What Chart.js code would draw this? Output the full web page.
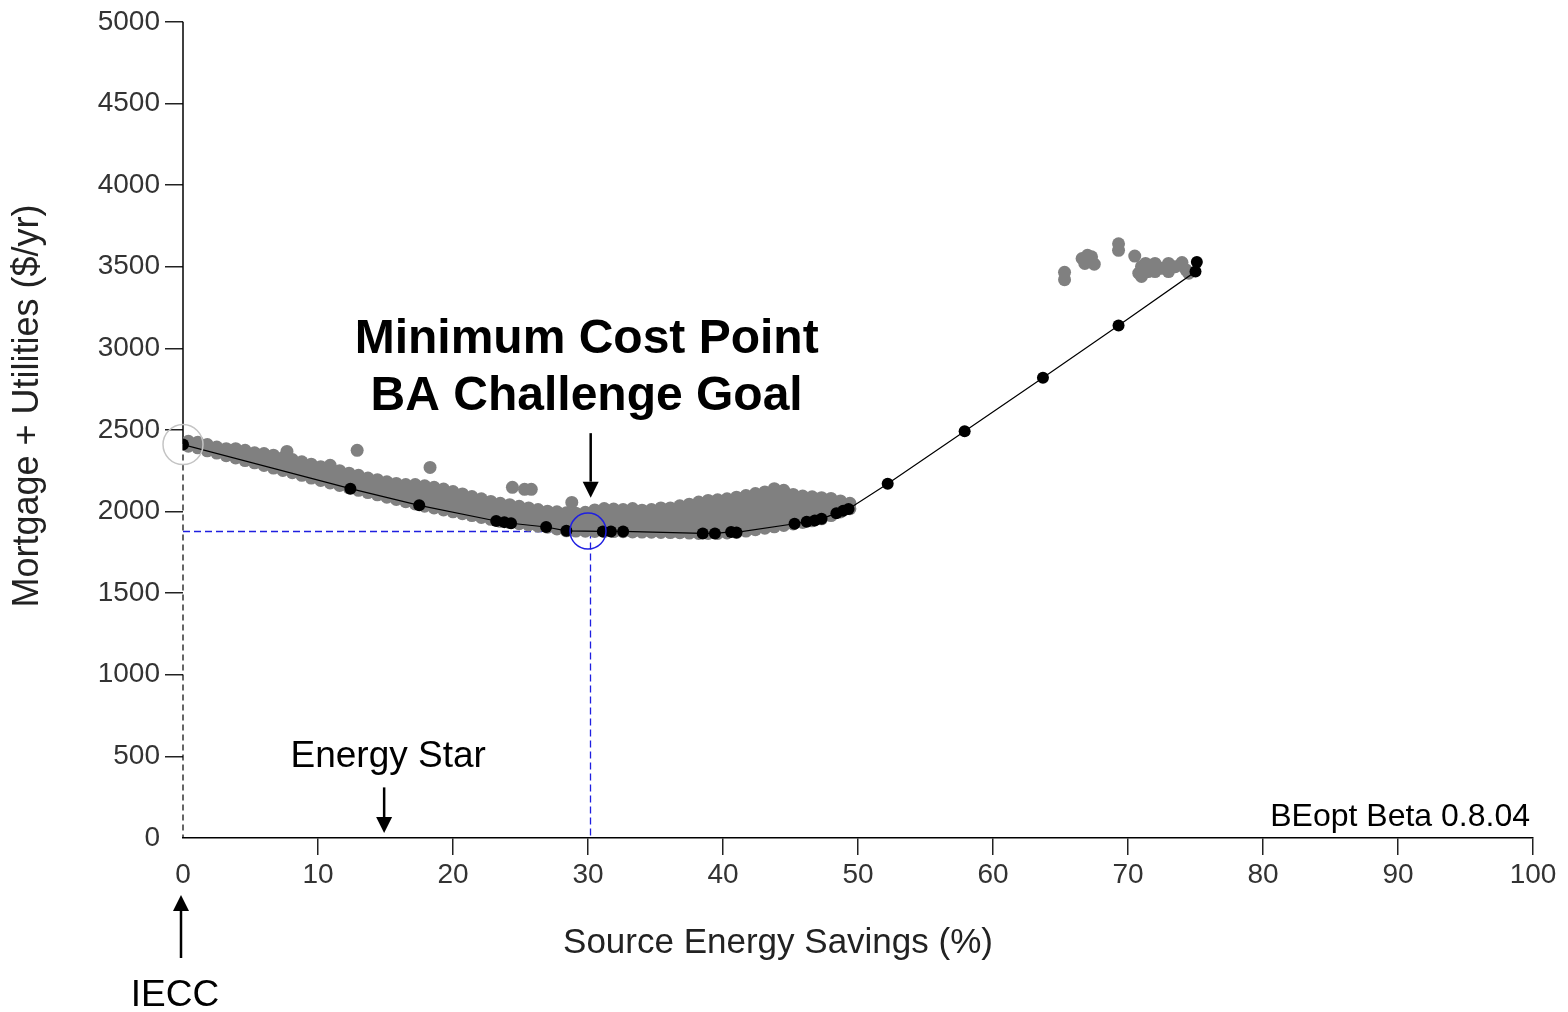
<!DOCTYPE html>
<html>
<head>
<meta charset="utf-8">
<title>BEopt - Mortgage + Utilities vs Source Energy Savings</title>
<script src="https://cdn.jsdelivr.net/npm/chart.js@4.4.1/dist/chart.umd.min.js"></script>
<style>
  html, body { margin: 0; padding: 0; background: #fff; }
  canvas { display: block; }
</style>
</head>
<body>
<canvas id="beoptChart" width="1568" height="1012"></canvas>
<script>
/* ================================================
   DATA
================================================ */

// least-cost curve points (black) - source energy savings %, $/yr
const FRONTIER_X = [0, 12.4, 17.5, 23.2, 23.8, 24.3, 26.9, 28.4, 31.1, 31.7, 32.6, 38.5, 39.4, 40.6, 41.0,
                    45.3, 46.2, 46.8, 47.3, 48.4, 48.9, 49.3, 52.2, 57.9, 63.7, 69.3, 75.0, 75.1];
const FRONTIER_Y = [2410, 2140, 2038, 1942, 1935, 1928, 1905, 1882, 1878, 1878, 1878, 1866, 1866, 1875, 1872,
                    1925, 1938, 1945, 1955, 1990, 2005, 2015, 2170, 2492, 2820, 3140, 3470, 3528];

// other simulated designs (gray), grouped by savings column
const CLOUD_X = [0.4, 1.1, 1.8, 2.5, 3.2, 3.9, 4.6, 5.3, 6.0, 6.7, 7.4, 8.1, 8.8, 9.5, 10.2, 10.9, 11.6,
                 12.3, 13.0, 13.7, 14.4, 15.1, 15.8, 16.5, 17.2, 17.9, 18.6, 19.3, 20.0, 20.7, 21.4, 22.1,
                 22.8, 23.5, 24.2, 24.9, 25.6, 26.3, 27.0, 27.7, 28.4, 29.1, 29.8, 30.5, 31.2, 31.9, 32.6,
                 33.3, 34.0, 34.7, 35.4, 36.1, 36.8, 37.5, 38.2, 38.9, 39.6, 40.3, 41.0, 41.7, 42.4, 43.1,
                 43.8, 44.5, 45.2, 45.9, 46.6, 47.3, 48.0, 48.7, 49.4];
const CLOUD_Y = [
  [2400, 2430], [2390, 2425], [2372, 2410], [2358, 2395], [2342, 2385], [2328, 2355, 2385],
  [2312, 2340, 2375], [2298, 2330, 2360], [2282, 2320, 2355], [2266, 2300, 2345], [2252, 2290, 2330],
  [2238, 2275, 2318], [2222, 2262, 2305], [2205, 2248, 2290], [2190, 2235, 2275], [2175, 2220, 2258],
  [2160, 2205, 2250], [2145, 2190, 2235], [2130, 2175, 2222], [2116, 2160, 2205], [2102, 2150, 2195],
  [2088, 2135, 2182], [2074, 2120, 2172], [2060, 2110, 2165], [2046, 2095, 2140, 2165],
  [2033, 2085, 2130, 2158], [2022, 2070, 2115, 2148], [2010, 2055, 2100, 2138], [1998, 2045, 2090, 2122],
  [1987, 2035, 2075, 2108], [1975, 2020, 2060, 2092], [1964, 2005, 2045, 2078], [1952, 1995, 2035, 2062],
  [1940, 1985, 2020, 2050], [1932, 1975, 2010, 2042], [1925, 1965, 2000, 2032], [1918, 1955, 1990, 2022],
  [1910, 1948, 1985, 2012], [1904, 1940, 1975, 2002], [1893, 1930, 1965, 1998], [1882, 1920, 1958, 1992],
  [1880, 1918, 1955, 1990], [1879, 1915, 1955, 1995], [1878, 1915, 1955, 1990, 2010],
  [1878, 1915, 1950, 1985, 2018], [1877, 1912, 1950, 1985, 2015], [1876, 1912, 1948, 1982, 2012],
  [1875, 1910, 1948, 1985, 2018], [1874, 1910, 1945, 1980, 2008], [1873, 1910, 1945, 1982, 2012],
  [1872, 1908, 1945, 1985, 2022], [1871, 1908, 1948, 1988, 2022], [1870, 1908, 1950, 1995, 2035],
  [1868, 1908, 1950, 1995, 2045], [1866, 1905, 1950, 1995, 2035, 2058], [1866, 1905, 1950, 1995, 2035, 2068],
  [1866, 1908, 1952, 1998, 2040, 2072], [1869, 1910, 1955, 2000, 2045, 2078], [1872, 1912, 1958, 2005, 2050, 2088],
  [1880, 1920, 1965, 2010, 2055, 2098], [1889, 1930, 1975, 2020, 2065, 2110], [1898, 1940, 1985, 2030, 2075, 2120],
  [1906, 1950, 1995, 2040, 2090, 2140], [1915, 1958, 2000, 2045, 2090, 2130], [1924, 1965, 2010, 2055, 2105],
  [1933, 1975, 2020, 2060, 2095], [1943, 1985, 2025, 2060, 2090], [1955, 1995, 2035, 2085],
  [1975, 2015, 2050, 2080], [1997, 2035, 2065], [2017, 2050],
];

// isolated gray designs above the main band
const STRAY_X = [7.7, 10.9, 12.9, 18.3, 24.4, 25.3, 25.8, 28.8];
const STRAY_Y = [2368, 2283, 2375, 2270, 2148, 2136, 2136, 2056];

// high-savings gray group (top right)
const HIGH_X = [65.3, 65.3, 66.6, 67.3, 66.8, 67.5, 67.0, 69.3, 69.3, 70.5, 71.0, 71.0, 71.5, 72.0,
                72.5, 73.0, 73.5, 74.0, 74.3, 72.0, 73.0, 74.5, 71.3, 70.8];
const HIGH_Y = [3465, 3420, 3550, 3560, 3520, 3515, 3570, 3640, 3600, 3565, 3500, 3440, 3470, 3520,
                3490, 3520, 3500, 3525, 3480, 3470, 3470, 3460, 3520, 3460];

// minimum cost point (BA challenge goal)
const MIN_COST = { x: 30, y: 1880 };
const IECC_PT  = { x: 0,  y: 2410 };

/* ================================================
   BUILD POINTS
================================================ */
function buildGrayPoints() {
  const pts = [];
  CLOUD_X.forEach((x, i) => CLOUD_Y[i].forEach(y => pts.push({ x, y })));
  STRAY_X.forEach((x, i) => pts.push({ x, y: STRAY_Y[i] }));
  HIGH_X.forEach((x, i) => pts.push({ x, y: HIGH_Y[i] }));
  return pts;
}

const frontierPts = FRONTIER_X.map((x, i) => ({ x, y: FRONTIER_Y[i] }));

/* ================================================
   ANNOTATIONS
================================================ */
function arrow(ctx, x, y1, y2) {
  // shaft from y1 to tip at y2
  const dir  = y2 > y1 ? 1 : -1;
  const head = 16;
  ctx.beginPath();
  ctx.moveTo(x, y1);
  ctx.lineTo(x, y2 - dir * head);
  ctx.stroke();
  ctx.beginPath();
  ctx.moveTo(x, y2);
  ctx.lineTo(x - 8, y2 - dir * head);
  ctx.lineTo(x + 8, y2 - dir * head);
  ctx.closePath();
  ctx.fill();
}

const snap = v => Math.round(v) + 0.5;

const overlay = {
  id: 'overlay',
  beforeDatasetsDraw(chart) {
    const { ctx, chartArea: a, scales: { x, y } } = chart;
    const x0 = x.getPixelForValue(0);
    const yI = y.getPixelForValue(IECC_PT.y);
    ctx.save();
    ctx.strokeStyle = '#000';
    ctx.lineWidth = 1.5;
    // y axis: solid above the IECC point, dashed below it
    ctx.beginPath();
    ctx.moveTo(x0, a.top);
    ctx.lineTo(x0, yI);
    ctx.stroke();
    ctx.setLineDash([6, 4]);
    ctx.lineWidth = 1.2;
    ctx.beginPath();
    ctx.moveTo(x0, yI);
    ctx.lineTo(x0, a.bottom);
    ctx.stroke();

    // blue guide lines to min cost point
    const mx = snap(x.getPixelForValue(MIN_COST.x) + 2);
    const my = snap(y.getPixelForValue(MIN_COST.y));
    ctx.strokeStyle = '#1f1fe0';
    ctx.lineWidth = 1.3;
    ctx.setLineDash([7, 4]);
    ctx.beginPath();
    ctx.moveTo(x0, my);
    ctx.lineTo(mx - 2, my);
    ctx.moveTo(mx, my);
    ctx.lineTo(mx, a.bottom);
    ctx.stroke();
    ctx.restore();
  },
  afterDatasetsDraw(chart) {
    const { ctx, chartArea: a, scales: { x, y } } = chart;
    ctx.save();

    // circles
    ctx.lineWidth = 1.5;
    ctx.strokeStyle = '#c4c4c4';
    ctx.beginPath();
    ctx.arc(x.getPixelForValue(IECC_PT.x), y.getPixelForValue(IECC_PT.y), 20, 0, Math.PI * 2);
    ctx.stroke();
    ctx.strokeStyle = '#1f1fe0';
    ctx.beginPath();
    ctx.arc(x.getPixelForValue(MIN_COST.x), y.getPixelForValue(MIN_COST.y), 18, 0, Math.PI * 2);
    ctx.stroke();

    // arrows
    ctx.strokeStyle = '#000';
    ctx.fillStyle = '#000';
    ctx.lineWidth = 2.5;
    arrow(ctx, x.getPixelForValue(30.2), y.getPixelForValue(2480), y.getPixelForValue(2085));
    arrow(ctx, x.getPixelForValue(14.9), y.getPixelForValue(310), y.getPixelForValue(30));
    arrow(ctx, x.getPixelForValue(0) - 2, a.bottom + 120, a.bottom + 57);

    // labels
    ctx.textBaseline = 'middle';
    ctx.textAlign = 'center';
    ctx.font = 'bold 48px "Liberation Sans", Arial, sans-serif';
    ctx.fillText('Minimum Cost Point', x.getPixelForValue(29.9), y.getPixelForValue(3055));
    ctx.fillText('BA Challenge Goal', x.getPixelForValue(29.9), y.getPixelForValue(2700));
    ctx.font = '37px "Liberation Sans", Arial, sans-serif';
    ctx.fillText('Energy Star', x.getPixelForValue(15.2), y.getPixelForValue(495));
    ctx.fillText('IECC', x.getPixelForValue(0) - 8, a.bottom + 158);
    ctx.font = '32px "Liberation Sans", Arial, sans-serif';
    ctx.textAlign = 'right';
    ctx.fillText('BEopt Beta 0.8.04', a.right - 3, y.getPixelForValue(128));

    // axis titles
    ctx.fillStyle = '#222';
    ctx.textAlign = 'center';
    ctx.font = '35px "Liberation Sans", Arial, sans-serif';
    ctx.fillText('Source Energy Savings (%)', 778, a.bottom + 105);
    ctx.translate(28, 406);
    ctx.rotate(-Math.PI / 2);
    ctx.font = '36px "Liberation Sans", Arial, sans-serif';
    ctx.fillText('Mortgage + Utilities ($/yr)', 0, 0);
    ctx.restore();
  },
};

/* ================================================
   CHART
================================================ */
Chart.defaults.font.family = '"Liberation Sans", Arial, sans-serif';

const hideFirstTick = ctx => (ctx.index === 0 ? 'rgba(0,0,0,0)' : '#222');
const plainNumber   = v => String(v);

new Chart(document.getElementById('beoptChart'), {
  type: 'scatter',
  data: {
    datasets: [
      {
        label: 'Least cost curve',
        data: frontierPts,
        showLine: true,
        borderColor: '#000',
        borderWidth: 1.2,
        pointRadius: 6,
        pointBackgroundColor: '#000',
        pointBorderWidth: 0,
        order: 0,
      },
      {
        label: 'Designs',
        data: buildGrayPoints(),
        pointRadius: 6.5,
        pointBackgroundColor: '#808080',
        pointBorderWidth: 0,
        order: 1,
      },
    ],
  },
  options: {
    responsive: false,
    animation: false,
    devicePixelRatio: 1,
    layout: { padding: { top: 21, right: 35, left: 0, bottom: 0 } },
    plugins: {
      legend: { display: false },
      tooltip: { enabled: false },
    },
    scales: {
      x: {
        type: 'linear',
        min: 0,
        max: 100,
        ticks: { stepSize: 10, color: '#333', font: { size: 28 }, padding: 3, maxRotation: 0, callback: plainNumber },
        grid: { drawOnChartArea: false, drawTicks: true, tickLength: 17, color: hideFirstTick, lineWidth: 1.5 },
        border: { display: true, color: '#000', width: 1.5 },
        afterFit: s => { s.height = 174; },
      },
      y: {
        type: 'linear',
        min: 0,
        max: 5000,
        ticks: { stepSize: 500, color: '#333', font: { size: 28 }, padding: 5, callback: plainNumber },
        grid: { drawOnChartArea: false, drawTicks: true, tickLength: 18, color: hideFirstTick, lineWidth: 1.5 },
        border: { display: false },
        afterFit: s => { s.width = 183; },
      },
    },
  },
  plugins: [overlay],
});
</script>
</body>
</html>
